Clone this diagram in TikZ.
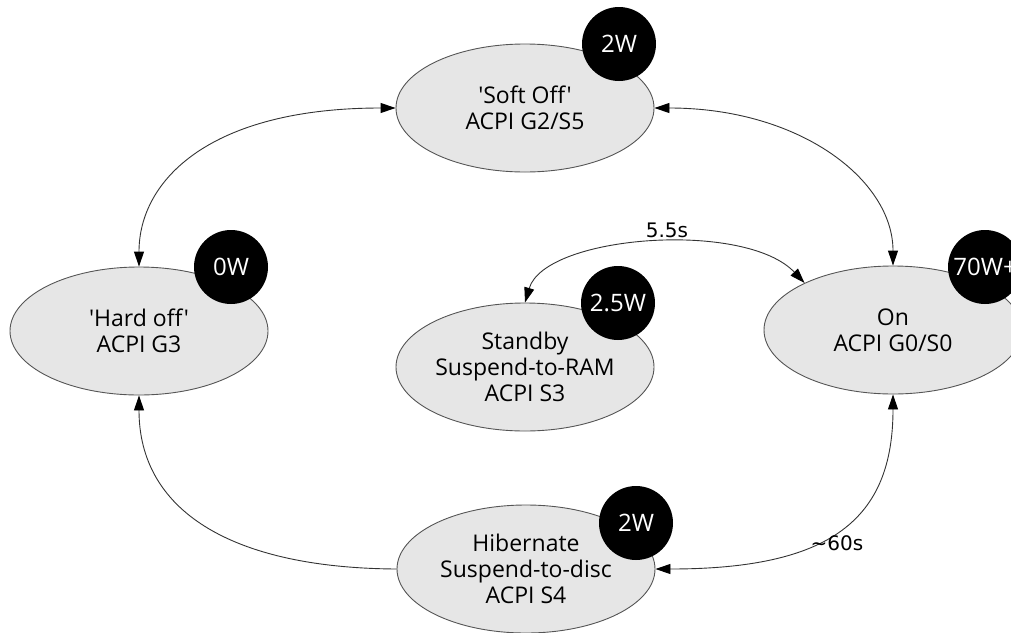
\documentclass[tikz,border=0pt]{standalone}
\usepackage{fontspec}
\newfontfamily\statefont{Open Sans}[Ligatures=TeXOff]
\newfontfamily\timefont{DejaVu Sans}
\usetikzlibrary{shapes.geometric,arrows.meta}
\definecolor{statefill}{HTML}{E6E6E6}
\definecolor{stateline}{HTML}{555555}
\definecolor{edgeline}{HTML}{333333}
\begin{document}
\begin{tikzpicture}[x=1pt,y=-1pt,
  state/.style={ellipse,draw=stateline,line width=0.9pt,fill=statefill,
    minimum width=258pt,minimum height=128pt,inner sep=0pt,align=center,
    font=\statefont\fontsize{23}{26}\selectfont},
  power/.style={circle,fill=black,minimum size=74pt,inner sep=0pt,
    text=white,font=\statefont\fontsize{24}{28}\selectfont},
  trans/.style={draw=edgeline,line width=0.9pt},
  both/.style={trans,{Triangle[length=15pt,width=10pt,color=black]}-{Triangle[length=15pt,width=10pt,color=black]}},
  one/.style={trans,-{Triangle[length=15pt,width=10pt,color=black]}},
  timing/.style={font=\timefont\fontsize{20}{22}\selectfont,inner sep=0pt}]
\useasboundingbox (0,0) rectangle (1011,632);

% states
\node[state] (soft) at (525,108) {'Soft Off'\\ACPI G2/S5};
\node[state] (hard) at (139,331) {'Hard off'\\ACPI G3};
\node[state] (sb)   at (525,367) {Standby\\Suspend-to-RAM\\ACPI S3};
\node[state] (on)   at (893,330) {On\\ACPI G0/S0};
\node[state] (hib)  at (526,569) {Hibernate\\Suspend-to-disc\\ACPI S4};

% power draw badges
\node[power] (psoft) at (619,44)  {2W};
\node[power] (phard) at (231,267) {0W};
\node[power] (psb)   at (618,303) {2.5W};
\node[power] (pon)   at (985,267) {70W+};
\node[power] (phib)  at (636,523) {2W};

% transitions
\draw[both] (hard.north) .. controls (139,180) and (210,108) .. (soft.west);
\draw[both] (soft.east) .. controls (800,108) and (893,180) .. (on.north);
\draw[one]  (hib.west) .. controls (230,568) and (139,510) .. (hard.south);
\draw[both] (hib.east) .. controls (830,569) and (893,520) .. (on.south);
\draw[both] (sb.north) .. controls (545,235) and (745,220) .. (on.152);

% timing labels
\node[timing] (t1) at (667,230) {5.5s};
\node[timing] (t2) at (837,543) {\textasciitilde 60s};
\end{tikzpicture}
\end{document}
